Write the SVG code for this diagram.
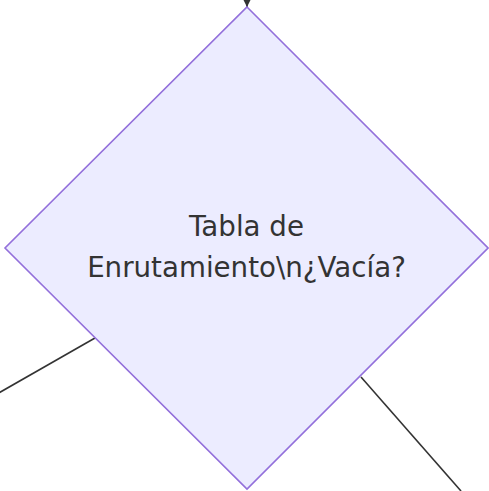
<svg xmlns="http://www.w3.org/2000/svg" width="489" height="491" viewBox="0 0 489 491">
<style>
.node{fill:#ECECFF;stroke:#9370DB;stroke-width:1.6}
.edge{fill:none;stroke:#333;stroke-width:1.6}
.lbl{font-family:"DejaVu Sans",sans-serif;font-size:27.7px;fill:#333;text-anchor:middle}
</style>
<defs>
<marker id="arrow" viewBox="0 0 10 10" refX="10" refY="5" markerWidth="10" markerHeight="9" orient="auto" markerUnits="userSpaceOnUse">
<path d="M0,0 L10,5 L0,10 z" fill="#333"/>
</marker>
</defs>
<g id="edges">
<path class="edge" d="M247,-10 L247,7" marker-end="url(#arrow)"/>
<path class="edge" d="M95,338 L-10,398"/>
<path class="edge" d="M361,377 L461,491"/>
</g>
<g id="node-tabla">
<polygon class="node" points="247,7 488,248 247,489 5,248"/>
<text class="lbl" x="246.5" y="236">Tabla de</text>
<text class="lbl" x="246.5" y="277">Enrutamiento\n¿Vacía?</text>
</g>
</svg>
